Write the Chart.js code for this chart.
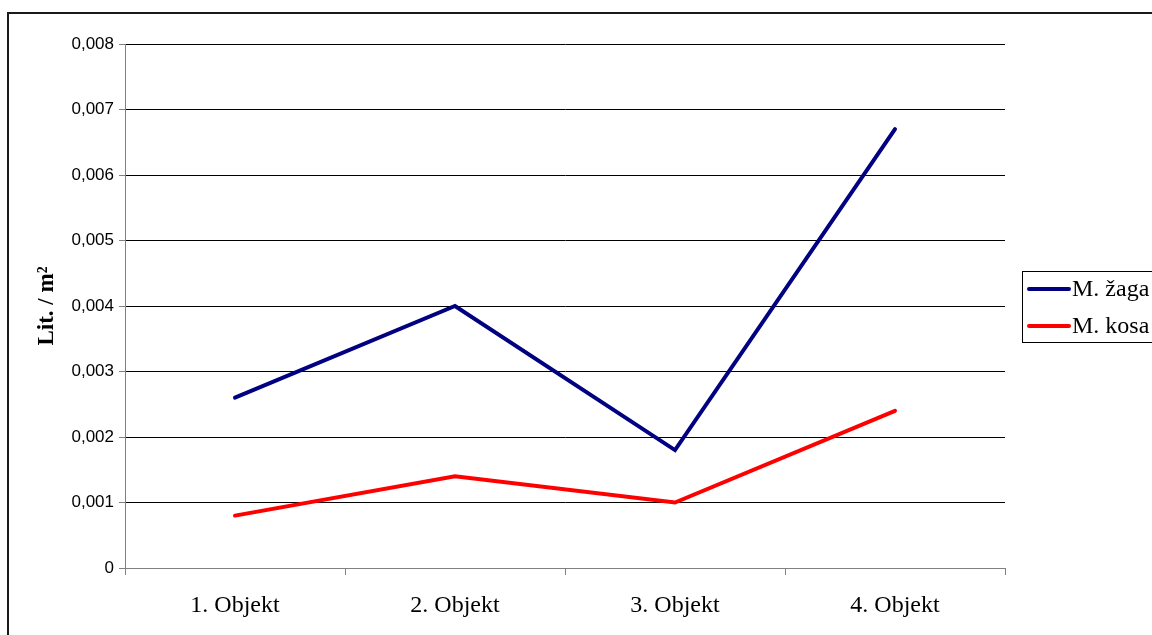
<!DOCTYPE html>
<html>
<head>
<meta charset="utf-8">
<script src="https://cdn.jsdelivr.net/npm/chart.js@4/dist/chart.umd.min.js"></script>
<style>
  html, body { margin: 0; padding: 0; background: #fff; overflow: hidden; }
  #wrap { position: relative; width: 1152px; height: 635px; }
  #frame { position: absolute; left: 7px; top: 12px; width: 1200px; height: 700px;
           border: 2px solid #1a1a1a; box-sizing: border-box; pointer-events: none; }
  canvas { position: absolute; left: 0; top: 0; }
</style>
</head>
<body>
<div id="wrap">
  <canvas id="c" width="1152" height="635"></canvas>
  <div id="frame"></div>
</div>
<script>
// Objects along the horizontal axis
const categories = ['1. Objekt', '2. Objekt', '3. Objekt', '4. Objekt'];
// Litres per square metre for each machine
const zagaValues = [0.0026, 0.0040, 0.0018, 0.0067];
const kosaValues = [0.0008, 0.0014, 0.0010, 0.0024];
const seriesNames = ['M. žaga', 'M. kosa'];
const seriesColors = ['#000080', '#FF0000'];
const yTitle = 'Lit. / m²';
const yMin = 0, yMax = 0.008, yStep = 0.001;

const serif = '"Liberation Serif", "Times New Roman", serif';
const sans = '"Liberation Sans", Arial, sans-serif';

// Rotated axis title and the boxed legend on the right
const decorations = {
  id: 'decorations',
  afterDraw(chart) {
    const ctx = chart.ctx;
    const area = chart.chartArea;
    ctx.save();
    ctx.translate(47, (area.top + area.bottom) / 2);
    ctx.rotate(-Math.PI / 2);
    ctx.font = 'bold 23px ' + serif;
    ctx.fillStyle = '#000';
    ctx.textAlign = 'center';
    ctx.textBaseline = 'middle';
    ctx.fillText(yTitle, 0, 0);
    ctx.restore();

    ctx.save();
    ctx.strokeStyle = '#000';
    ctx.lineWidth = 1;
    ctx.strokeRect(1022.5, 271.5, 160, 71);
    ctx.font = '24px ' + serif;
    ctx.textBaseline = 'middle';
    ctx.textAlign = 'left';
    chart.data.datasets.forEach((ds, i) => {
      const y = 289 + i * 37;
      ctx.strokeStyle = ds.borderColor;
      ctx.lineWidth = 4;
      ctx.lineCap = 'round';
      ctx.beginPath();
      ctx.moveTo(1029, y);
      ctx.lineTo(1069, y);
      ctx.stroke();
      ctx.fillStyle = '#000';
      ctx.fillText(ds.label, 1072, y + 1);
    });
    ctx.restore();
  }
};

new Chart(document.getElementById('c'), {
  type: 'line',
  data: {
    labels: categories,
    datasets: [
      { label: seriesNames[0], data: zagaValues, borderColor: seriesColors[0], backgroundColor: seriesColors[0] },
      { label: seriesNames[1], data: kosaValues, borderColor: seriesColors[1], backgroundColor: seriesColors[1] }
    ]
  },
  options: {
    responsive: false,
    animation: false,
    devicePixelRatio: 1,
    layout: { padding: { left: 0, top: 44, right: 147, bottom: 0 } },
    elements: {
      line: { borderWidth: 4, tension: 0, borderCapStyle: 'round', borderJoinStyle: 'miter' },
      point: { radius: 0, hoverRadius: 0 }
    },
    plugins: { legend: { display: false }, tooltip: { enabled: false } },
    scales: {
      x: {
        type: 'category',
        offset: true,
        grid: { offset: true, drawOnChartArea: false, drawTicks: true, tickLength: 7, color: '#808080' },
        border: { color: '#808080', width: 1 },
        ticks: { color: '#000', font: { family: serif, size: 24 }, padding: 16, maxRotation: 0, autoSkip: false },
        afterFit(scale) { scale.height = 67; }
      },
      y: {
        min: yMin,
        max: yMax,
        grid: { color: '#000', lineWidth: 1, tickLength: 6, tickColor: '#808080' },
        border: { color: '#808080', width: 1 },
        ticks: {
          stepSize: yStep,
          color: '#000',
          padding: 5,
          font: { family: sans, size: 17 },
          callback: v => v === 0 ? '0' : v.toFixed(3).replace('.', ',')
        },
        afterFit(scale) { scale.width = 125; }
      }
    }
  },
  plugins: [decorations]
});
</script>
</body>
</html>
